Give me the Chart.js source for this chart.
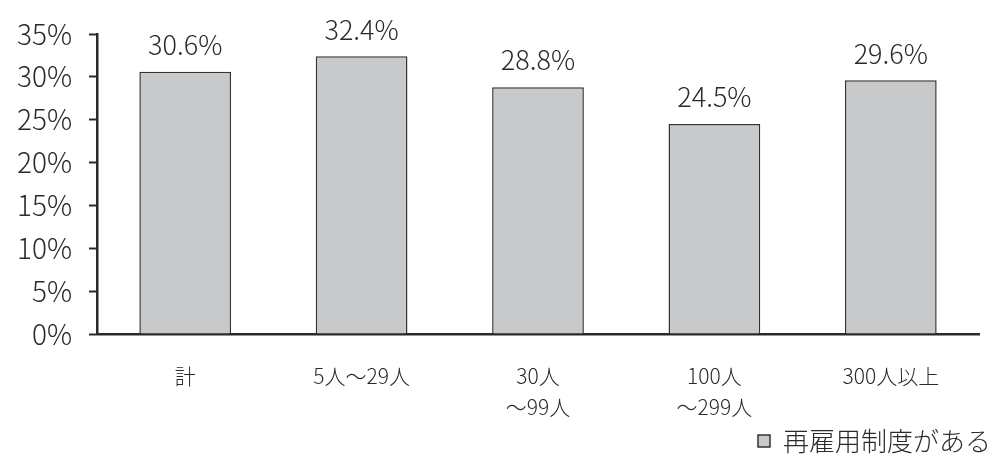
<!DOCTYPE html>
<html lang="ja">
<head>
<meta charset="utf-8">
<title>再雇用制度がある</title>
<script src="https://cdn.jsdelivr.net/npm/chart.js@4/dist/chart.umd.min.js"></script>
<style>
  html, body { margin: 0; padding: 0; background: #fff; }
  #wrap { width: 995px; height: 461px; position: relative; }
</style>
</head>
<body>
<div id="wrap"><canvas id="chart"></canvas></div>
<script>
// Company-size categories (multi-line labels as arrays)
const categories = [
  '計',
  '5人～29人',
  ['30人', '～99人'],
  ['100人', '～299人'],
  '300人以上'
];
// Share of firms with a re-employment scheme (%)
const rehireRates = [30.6, 32.4, 28.8, 24.5, 29.6];
const seriesName = '再雇用制度がある';
const yTicksMax = 35;
const yTicksStep = 5;

const FONT = '"Noto Sans CJK JP", "Noto Sans", sans-serif';
const INK = '#2a2a2a';

// Value labels above each bar
const valueLabels = {
  id: 'valueLabels',
  afterDatasetsDraw(chart) {
    const ctx = chart.ctx;
    const meta = chart.getDatasetMeta(0);
    const values = chart.data.datasets[0].data;
    ctx.save();
    ctx.fillStyle = INK;
    ctx.font = '300 27px ' + FONT;
    ctx.textAlign = 'center';
    ctx.textBaseline = 'middle';
    meta.data.forEach((bar, i) => {
      ctx.fillText(values[i].toFixed(1) + '%', bar.x, bar.y - 27);
    });
    ctx.restore();
  }
};

// Push the legend to the far right / bottom edge of the canvas
const legendShift = {
  id: 'legendShift',
  afterLayout(chart) {
    const lg = chart.legend;
    if (lg) {
      lg.left += 20;
      lg.right += 20;
      lg.top += 3;
      lg.bottom += 3;
    }
  }
};

new Chart(document.getElementById('chart'), {
  type: 'bar',
  data: {
    labels: categories,
    datasets: [{
      label: seriesName,
      data: rehireRates,
      backgroundColor: '#c8c9cb',
      borderColor: '#333333',
      borderWidth: 1.5,
      barPercentage: 0.52,
      categoryPercentage: 1.0
    }]
  },
  options: {
    responsive: true,
    maintainAspectRatio: false,
    animation: false,
    layout: { padding: { top: 34, right: 16, bottom: 0, left: 0 } },
    plugins: {
      legend: {
        position: 'bottom',
        align: 'end',
        labels: {
          boxWidth: 12,
          boxHeight: 12,
          padding: 8,
          color: INK,
          font: { family: FONT, size: 26, weight: '300' }
        }
      },
      tooltip: { enabled: false }
    },
    scales: {
      x: {
        offset: true,
        grid: { display: false, drawTicks: false },
        border: { display: true, color: INK, width: 2.5 },
        ticks: {
          color: INK,
          padding: 27,
          maxRotation: 0,
          autoSkip: false,
          font: { family: FONT, size: 21, lineHeight: 1.45, weight: '300' }
        },
        afterFit(scale) { scale.height = 83; }
      },
      y: {
        min: 0,
        max: yTicksMax,
        grid: {
          display: true,
          drawOnChartArea: false,
          drawTicks: true,
          tickLength: 8,
          tickColor: INK,
          tickWidth: 2
        },
        border: { display: true, color: INK, width: 2.5 },
        ticks: {
          stepSize: yTicksStep,
          color: INK,
          padding: 17,
          font: { family: FONT, size: 28, weight: '300' },
          callback: v => v + '%'
        },
        afterFit(scale) { scale.width = 97; }
      }
    }
  },
  plugins: [valueLabels, legendShift]
});
</script>
</body>
</html>
